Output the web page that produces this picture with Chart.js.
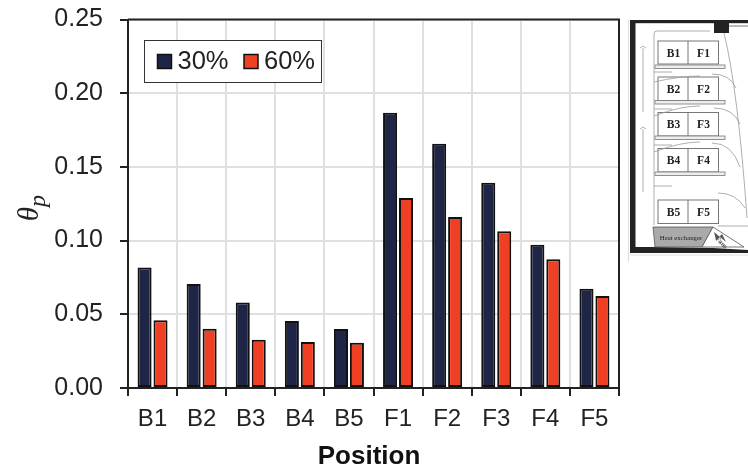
<!DOCTYPE html>
<html>
<head>
<meta charset="utf-8">
<script src="https://cdn.jsdelivr.net/npm/chart.js@4"></script>
<style>
  html, body { margin: 0; padding: 0; background: #fff; }
  #wrap { position: relative; width: 748px; height: 470px; overflow: hidden; }
  #inset { position: absolute; left: 0; top: 0; }
</style>
</head>
<body>
<div id="wrap">
  <canvas id="chart" width="748" height="470"></canvas>
  <!-- schematic of the room, top right -->
  <svg id="inset" width="748" height="470" font-family="Liberation Serif">
    <defs>
      <filter id="soft"><feGaussianBlur stdDeviation="0.35"/></filter>
    </defs>
    <g filter="url(#soft)">
      <path d="M628.500 20V262" stroke="#ddd" stroke-width="1" fill="none"/>
      <path d="M630 255H748" stroke="#ddd" stroke-width="1" fill="none"/>
      <rect x="630" y="20" width="5.500" height="233" fill="#222"/>
      <rect x="630" y="20" width="118" height="3.200" fill="#222"/>
      <path d="M630 247H653L713 248L748 250V253H630Z" fill="#222"/>
      <rect x="714" y="21" width="15" height="12" fill="#222"/>
      <path d="M729 26H748" stroke="#555" stroke-width="0.800"/>
      <path d="M653 227H713L702 247H655Z" fill="#aaa" stroke="#555" stroke-width="0.800"/>
      <path d="M713 227L744 247H702Z" fill="#fff" stroke="#555" stroke-width="0.800"/>
      <g fill="#fff" stroke="#777" stroke-width="1">
        <rect x="658" y="41" width="60.500" height="23"/>
        <rect x="658" y="77" width="60.500" height="23.500"/>
        <rect x="658" y="112.500" width="60.500" height="23.500"/>
        <rect x="658" y="148.500" width="60.500" height="23.500"/>
        <rect x="658" y="200" width="60.500" height="23.500"/>
        <path d="M688 41V64M688 77V100.500M688 112.500V136M688 148.500V172M688 200V223.500" fill="none"/>
      </g>
      <g fill="#eee" stroke="#777" stroke-width="0.800">
        <rect x="655" y="65" width="70" height="3.500"/>
        <rect x="655" y="100.500" width="70" height="3.500"/>
        <rect x="655" y="136" width="70" height="3.500"/>
        <rect x="655" y="172" width="70" height="3.500"/>
      </g>
      <g fill="none" stroke="#999" stroke-width="0.800">
        <path d="M654 225V34Q654 31 657 31H710"/>
        <path d="M724 33Q738 90 747 218"/>
        <path d="M643 112V48M640 48L643 46L646 48"/>
        <path d="M643 192V129M640 129L643 127L646 129"/>
        <path d="M712 74Q730 74 736 88"/>
        <path d="M714 108Q733 108 740 124"/>
        <path d="M712 143Q732 143 740 167"/>
        <path d="M718 193Q736 193 745 208"/>
        <path d="M654 72H672M654 109H672M654 145H672M654 186H672"/>
        <path d="M654 82Q680 76 700 76M654 116Q680 106 700 106M654 152Q680 142 700 142"/>
        <path d="M718 226H748"/>
      </g>
      <g font-size="11.500" font-weight="bold" fill="#222" text-anchor="middle">
        <text x="673.500" y="57">B1</text>
        <text x="703.500" y="57">F1</text>
        <text x="673.500" y="93">B2</text>
        <text x="703.500" y="93">F2</text>
        <text x="673.500" y="128">B3</text>
        <text x="703.500" y="128">F3</text>
        <text x="673.500" y="164">B4</text>
        <text x="703.500" y="164">F4</text>
        <text x="673.500" y="215.500">B5</text>
        <text x="703.500" y="215.500">F5</text>
      </g>
      <text x="681" y="240" font-size="6.800" fill="#222" text-anchor="middle">Heat exchanger</text>
      <text x="0" y="0" font-size="6.500" font-weight="bold" fill="#333" text-anchor="middle" transform="translate(720 244) rotate(45)">Fans</text>
      <path d="M714 232L726 242L722 234L716 240Z" fill="#555"/>
    </g>
  </svg>
</div>
<script>
const categories = ['B1', 'B2', 'B3', 'B4', 'B5', 'F1', 'F2', 'F3', 'F4', 'F5'];
const values30 = [0.0817, 0.0706, 0.058, 0.0454, 0.040, 0.1868, 0.1657, 0.1393, 0.0972, 0.0674];
const values60 = [0.0459, 0.0402, 0.0328, 0.0312, 0.0307, 0.1289, 0.116, 0.1063, 0.0873, 0.0624];
const yTicks = [0, 0.05, 0.10, 0.15, 0.20, 0.25];
const xTitle = 'Position';

const navy = '#1f2547';
const red = '#f04023';
const axisColor = '#222222';
const textColor = '#222222';

// top and right edge of the plot, the legend box and the two axis titles
const framePlugin = {
    id: 'frame',
    afterDraw(chart) {
        const ctx = chart.ctx;
        const a = chart.chartArea;
        ctx.save();
        ctx.strokeStyle = axisColor;
        ctx.lineWidth = 2;
        ctx.beginPath();
        ctx.moveTo(a.left, a.top);
        ctx.lineTo(a.right, a.top);
        ctx.lineTo(a.right, a.bottom);
        ctx.stroke();

        // legend
        const x = a.left + 16.5;
        const y = a.top + 21;
        ctx.fillStyle = '#fff';
        ctx.fillRect(x, y, 177, 42);
        ctx.strokeStyle = '#333';
        ctx.lineWidth = 1;
        ctx.strokeRect(x, y, 177, 42);
        ctx.font = '25.5px "Liberation Sans"';
        ctx.textBaseline = 'middle';
        ctx.textAlign = 'left';
        chart.data.datasets.forEach((ds, i) => {
            const sx = x + 13 + i * 86.5;
            ctx.fillStyle = ds.backgroundColor;
            ctx.strokeStyle = '#111';
            ctx.lineWidth = 1.5;
            ctx.fillRect(sx, y + 14, 14, 14);
            ctx.strokeRect(sx, y + 14, 14, 14);
            ctx.fillStyle = textColor;
            ctx.fillText(ds.label, sx + 20, y + 21);
        });

        // x title sits a little left of the plot centre
        ctx.font = 'bold 26px "Liberation Sans"';
        ctx.textAlign = 'center';
        ctx.fillStyle = '#111';
        ctx.fillText(xTitle, 369, 457);

        // y title: theta with a subscript p
        ctx.translate(33, 207);
        ctx.rotate(-Math.PI / 2);
        ctx.fillStyle = textColor;
        ctx.font = 'italic 29px "Liberation Serif"';
        ctx.textAlign = 'right';
        ctx.fillText('θ', 0, -3);
        ctx.font = 'italic 24px "Liberation Serif"';
        ctx.textAlign = 'left';
        ctx.fillText('p', 0, 6);
        ctx.restore();
    }
};

new Chart(document.getElementById('chart').getContext('2d'), {
    type: 'bar',
    data: {
        labels: categories,
        datasets: [
            { label: '30%', data: values30, backgroundColor: navy, borderColor: '#111', borderWidth: 2, borderSkipped: false },
            { label: '60%', data: values60, backgroundColor: red, borderColor: '#111', borderWidth: 2, borderSkipped: false }
        ]
    },
    options: {
        responsive: false,
        animation: false,
        devicePixelRatio: 1,
        layout: { padding: { top: 19.5, right: 129, bottom: 0, left: 0 } },
        datasets: { bar: { categoryPercentage: 0.65, barPercentage: 0.88 } },
        plugins: { legend: { display: false }, tooltip: { enabled: false } },
        scales: {
            x: {
                afterFit: s => { s.height = 82; s.paddingLeft = 0; s.paddingRight = 0; },
                grid: { color: '#e0e0e0', lineWidth: 2, tickColor: axisColor, tickLength: 8, tickWidth: 2 },
                border: { color: axisColor, width: 2 },
                ticks: { color: textColor, padding: 9, maxRotation: 0, font: { family: 'Liberation Sans', size: 24 } }
            },
            y: {
                min: 0,
                max: 0.25,
                afterFit: s => { s.width = 128; s.paddingTop = 0; s.paddingBottom = 0; },
                afterBuildTicks: s => { s.ticks = yTicks.map(v => ({ value: v })); },
                grid: { color: '#e0e0e0', lineWidth: 2, tickColor: axisColor, tickLength: 8, tickWidth: 2 },
                border: { color: axisColor, width: 2 },
                ticks: { color: textColor, padding: 17, callback: v => v.toFixed(2), font: { family: 'Liberation Sans', size: 25 } }
            }
        }
    },
    plugins: [framePlugin]
});
</script>
</body>
</html>
